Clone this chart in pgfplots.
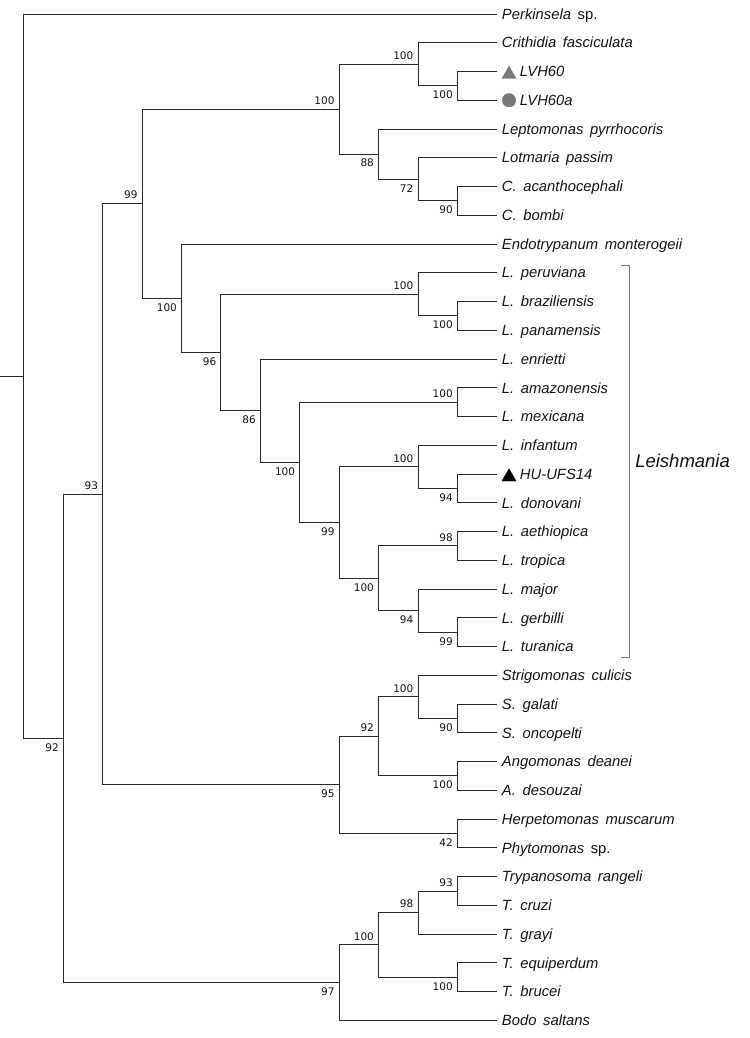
\documentclass[border=0pt]{standalone}
\usepackage{pgfplots}
\pgfplotsset{compat=1.18}
\usepackage{fontspec}
\setmainfont{Liberation Sans}[WordSpace=1.6]
\newfontfamily\bsfont{DejaVu Sans}
\definecolor{treeline}{RGB}{40,40,40}
\definecolor{txt}{RGB}{20,20,20}
\definecolor{mgray}{RGB}{120,120,120}
\newcommand{\lf}[2]{\node[anchor=base west,inner sep=0pt,xshift=5bp,yshift=-5.2bp,font=\fontsize{14.8bp}{16bp}\selectfont\itshape,text=txt] at (axis cs:12,#1) {#2};}
\newcommand{\lfm}[2]{\node[anchor=base west,inner sep=0pt,xshift=23bp,yshift=-5.2bp,font=\fontsize{14.8bp}{16bp}\selectfont\itshape,text=txt] at (axis cs:12,#1) {#2};}
\newcommand{\bu}[3]{\node[anchor=south east,inner sep=0pt,xshift=-4.5bp,yshift=4.5bp,font=\bsfont\fontsize{10.5bp}{12bp}\selectfont,text=txt] at (axis cs:#1,#2) {#3};}
\newcommand{\bd}[3]{\node[anchor=north east,inner sep=0pt,xshift=-4.5bp,yshift=-4.8bp,font=\bsfont\fontsize{10.5bp}{12bp}\selectfont,text=txt] at (axis cs:#1,#2) {#3};}
\begin{document}
\begin{tikzpicture}
\begin{axis}[
  width=750bp, height=1038bp, scale only axis,
  xmin=-0.6091, xmax=18.4264, ymin=-0.4871, ymax=35.6124,
  y dir=reverse, hide axis, clip=false,
  unbounded coords=jump,
]
% tree branches
\addplot[treeline, line width=1bp, line join=miter] coordinates {
(-0.61,12.5984) (0,12.5984) (nan,nan)
(0,12.5984) (0,0) (12,0) (nan,nan)
(0,12.5984) (0,25.1968) (1,25.1968) (nan,nan)
(1,25.1968) (1,16.7061) (2,16.7061) (nan,nan)
(1,25.1968) (1,33.6875) (8,33.6875) (nan,nan)
(2,16.7061) (2,6.5996) (3,6.5996) (nan,nan)
(2,16.7061) (2,26.8125) (8,26.8125) (nan,nan)
(3,6.5996) (3,3.3125) (8,3.3125) (nan,nan)
(3,6.5996) (3,9.8867) (4,9.8867) (nan,nan)
(8,3.3125) (8,1.75) (10,1.75) (nan,nan)
(8,3.3125) (8,4.875) (9,4.875) (nan,nan)
(10,1.75) (10,1) (12,1) (nan,nan)
(10,1.75) (10,2.5) (11,2.5) (nan,nan)
(12,2) (11,2) (11,3) (12,3) (nan,nan)
(9,4.875) (9,4) (12,4) (nan,nan)
(9,4.875) (9,5.75) (10,5.75) (nan,nan)
(10,5.75) (10,5) (12,5) (nan,nan)
(10,5.75) (10,6.5) (11,6.5) (nan,nan)
(12,6) (11,6) (11,7) (12,7) (nan,nan)
(4,9.8867) (4,8) (12,8) (nan,nan)
(4,9.8867) (4,11.7734) (5,11.7734) (nan,nan)
(5,11.7734) (5,9.75) (10,9.75) (nan,nan)
(5,11.7734) (5,13.7969) (6,13.7969) (nan,nan)
(10,9.75) (10,9) (12,9) (nan,nan)
(10,9.75) (10,10.5) (11,10.5) (nan,nan)
(12,10) (11,10) (11,11) (12,11) (nan,nan)
(6,13.7969) (6,12) (12,12) (nan,nan)
(6,13.7969) (6,15.5938) (7,15.5938) (nan,nan)
(7,15.5938) (7,13.5) (11,13.5) (nan,nan)
(7,15.5938) (7,17.6875) (8,17.6875) (nan,nan)
(12,13) (11,13) (11,14) (12,14) (nan,nan)
(8,17.6875) (8,15.75) (10,15.75) (nan,nan)
(8,17.6875) (8,19.625) (9,19.625) (nan,nan)
(10,15.75) (10,15) (12,15) (nan,nan)
(10,15.75) (10,16.5) (11,16.5) (nan,nan)
(12,16) (11,16) (11,17) (12,17) (nan,nan)
(9,19.625) (9,18.5) (11,18.5) (nan,nan)
(9,19.625) (9,20.75) (10,20.75) (nan,nan)
(12,18) (11,18) (11,19) (12,19) (nan,nan)
(10,20.75) (10,20) (12,20) (nan,nan)
(10,20.75) (10,21.5) (11,21.5) (nan,nan)
(12,21) (11,21) (11,22) (12,22) (nan,nan)
(8,26.8125) (8,25.125) (9,25.125) (nan,nan)
(8,26.8125) (8,28.5) (11,28.5) (nan,nan)
(9,25.125) (9,23.75) (10,23.75) (nan,nan)
(9,25.125) (9,26.5) (11,26.5) (nan,nan)
(10,23.75) (10,23) (12,23) (nan,nan)
(10,23.75) (10,24.5) (11,24.5) (nan,nan)
(12,24) (11,24) (11,25) (12,25) (nan,nan)
(12,26) (11,26) (11,27) (12,27) (nan,nan)
(12,28) (11,28) (11,29) (12,29) (nan,nan)
(8,33.6875) (8,32.375) (9,32.375) (nan,nan)
(8,33.6875) (8,35) (12,35) (nan,nan)
(9,32.375) (9,31.25) (10,31.25) (nan,nan)
(9,32.375) (9,33.5) (11,33.5) (nan,nan)
(10,31.25) (10,30.5) (11,30.5) (nan,nan)
(10,31.25) (10,32) (12,32) (nan,nan)
(12,30) (11,30) (11,31) (12,31) (nan,nan)
(12,33) (11,33) (11,34) (12,34)
};
% Leishmania bracket
\addplot[mgray, line width=1bp] coordinates {(15.15,8.76) (15.38,8.76) (15.38,22.37) (15.15,22.37)};
% markers
\addplot[only marks, mark=triangle*, mark size=8.2pt, color=mgray] coordinates {(12.31,2.1)};
\addplot[only marks, mark=*, mark size=6.8pt, color=mgray] coordinates {(12.31,3)};
\addplot[only marks, mark=triangle*, mark size=8.2pt, color=black] coordinates {(12.31,16.1)};
% leaf labels
\lf{0}{Perkinsela\/ \upshape sp.}
\lf{1}{Crithidia fasciculata}
\lfm{2}{LVH60}
\lfm{3}{LVH60a}
\lf{4}{Leptomonas pyrrhocoris}
\lf{5}{Lotmaria passim}
\lf{6}{C. acanthocephali}
\lf{7}{C. bombi}
\lf{8}{Endotrypanum monterogeii}
\lf{9}{L. peruviana}
\lf{10}{L. braziliensis}
\lf{11}{L. panamensis}
\lf{12}{L. enrietti}
\lf{13}{L. amazonensis}
\lf{14}{L. mexicana}
\lf{15}{L. infantum}
\lfm{16}{HU-UFS14}
\lf{17}{L. donovani}
\lf{18}{L. aethiopica}
\lf{19}{L. tropica}
\lf{20}{L. major}
\lf{21}{L. gerbilli}
\lf{22}{L. turanica}
\lf{23}{Strigomonas culicis}
\lf{24}{S. galati}
\lf{25}{S. oncopelti}
\lf{26}{Angomonas deanei}
\lf{27}{A. desouzai}
\lf{28}{Herpetomonas muscarum}
\lf{29}{Phytomonas\/ \upshape sp.}
\lf{30}{Trypanosoma rangeli}
\lf{31}{T. cruzi}
\lf{32}{T. grayi}
\lf{33}{T. equiperdum}
\lf{34}{T. brucei}
\lf{35}{Bodo saltans}
\node[anchor=base west,inner sep=0pt,font=\fontsize{18.5bp}{20bp}\selectfont\itshape,text=txt] at (axis cs:15.51,15.76) {Leishmania};
% bootstrap values
\bu{8}{3.3125}{100}
\bu{10}{1.75}{100}
\bd{11}{2.5}{100}
\bd{9}{4.875}{88}
\bd{10}{5.75}{72}
\bd{11}{6.5}{90}
\bu{3}{6.5996}{99}
\bd{4}{9.8867}{100}
\bd{5}{11.7734}{96}
\bu{10}{9.75}{100}
\bd{11}{10.5}{100}
\bd{6}{13.7969}{86}
\bd{7}{15.5938}{100}
\bu{11}{13.5}{100}
\bd{8}{17.6875}{99}
\bu{10}{15.75}{100}
\bd{11}{16.5}{94}
\bd{9}{19.625}{100}
\bu{11}{18.5}{98}
\bd{10}{20.75}{94}
\bd{11}{21.5}{99}
\bu{2}{16.7061}{93}
\bd{1}{25.1968}{92}
\bd{8}{26.8125}{95}
\bu{9}{25.125}{92}
\bu{10}{23.75}{100}
\bd{11}{24.5}{90}
\bd{11}{26.5}{100}
\bd{11}{28.5}{42}
\bd{8}{33.6875}{97}
\bu{9}{32.375}{100}
\bu{10}{31.25}{98}
\bu{11}{30.5}{93}
\bd{11}{33.5}{100}
\end{axis}
\pgfresetboundingbox
\useasboundingbox (current axis.south west) rectangle (current axis.north east);
\end{tikzpicture}
\end{document}
